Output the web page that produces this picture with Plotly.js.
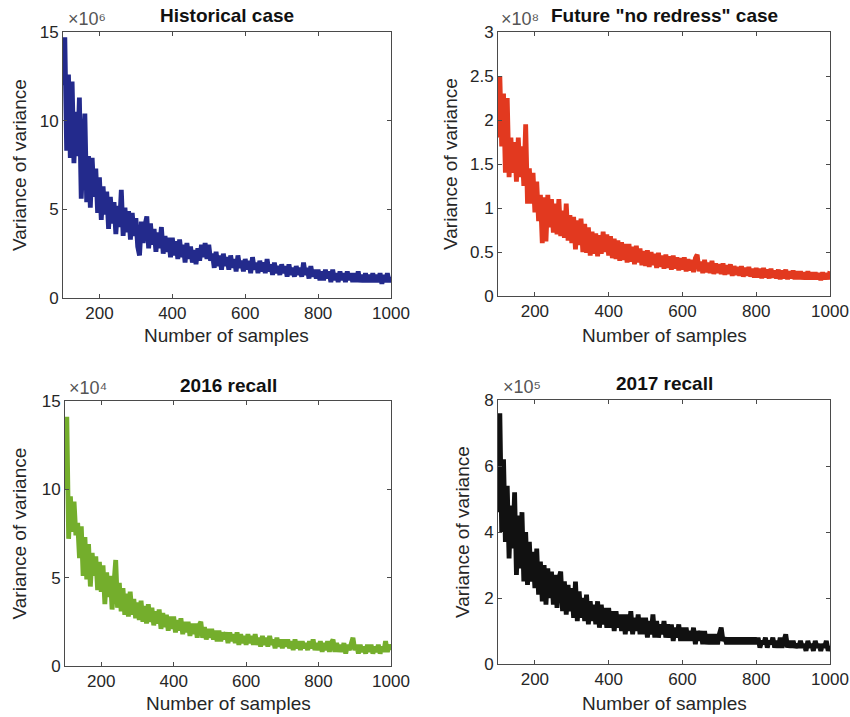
<!DOCTYPE html>
<html>
<head>
<meta charset="utf-8">
<script src="https://cdn.plot.ly/plotly-3.0.1.min.js"></script>
<style>html,body{margin:0;padding:0;background:#fff;}#chart{width:850px;height:717px;}</style>
</head>
<body>
<div id="chart"></div>
<script>
// Number of samples (x)
const samples = [
100,105,110,115,120,125,130,135,140,145,150,155,160,165,170,175,180,185,190,195,
200,205,210,215,220,225,230,235,240,245,250,255,260,265,270,275,280,285,290,295,
300,305,310,315,320,325,330,335,340,345,350,355,360,365,370,375,380,385,390,395,
400,405,410,415,420,425,430,435,440,445,450,455,460,465,470,475,480,485,490,495,
500,505,510,515,520,525,530,535,540,545,550,555,560,565,570,575,580,585,590,595,
600,605,610,615,620,625,630,635,640,645,650,655,660,665,670,675,680,685,690,695,
700,705,710,715,720,725,730,735,740,745,750,755,760,765,770,775,780,785,790,795,
800,805,810,815,820,825,830,835,840,845,850,855,860,865,870,875,880,885,890,895,
900,905,910,915,920,925,930,935,940,945,950,955,960,965,970,975,980,985,990,995,
1000];

// Historical case, variance of variance (x 10^6)
const historical = [
12.0,14.7,8.3,12.6,7.9,12.2,7.6,10.5,8.0,11.3, 5.6,9.0,10.4,5.4,8.0,5.1,7.9,5.7,7.3,4.8,
6.8,4.4,6.3,4.7,6.0,3.9,5.7,4.2,5.4,3.6, 5.2,4.0,6.1,3.5,5.1,3.7,4.9,3.3,4.8,3.5,
4.5,2.9,2.4,4.3,3.1,4.1,4.6,2.8,4.2,3.0, 3.9,2.6,3.7,2.8,4.0,2.5,3.5,2.6,3.4,2.3,
3.4,2.4,3.2,2.2,3.3,2.3,3.0,2.0,3.1,2.2, 2.9,2.0,2.7,1.9,2.8,2.1,3.0,2.3,3.1,2.2,
3.0,2.1,2.5,1.7,2.6,1.8,2.4,1.6,2.5,1.8, 2.3,1.6,2.4,1.7,2.2,1.5,2.4,1.7,2.1,1.5,
2.2,1.6,2.1,1.4,2.3,1.6,2.0,1.4,2.1,1.5, 2.0,1.4,2.2,1.5,1.9,1.3,2.0,1.4,1.8,1.3,
1.9,1.4,1.8,1.2,1.9,1.3,1.7,1.2,1.8,1.3, 1.7,1.2,2.0,1.3,1.7,1.1,1.8,1.2,1.6,1.1,
1.6,1.0,1.5,1.0,1.6,1.1,1.5,0.9,1.6,1.0, 1.4,0.9,1.5,1.0,1.4,0.9,1.5,1.0,1.4,0.9,
1.4,0.9,1.5,0.9,1.3,0.9,1.4,0.9,1.3,0.9, 1.4,0.9,1.3,0.9,1.4,0.8,1.3,0.9,1.4,0.9,
1.2];

// Future "no redress" case (x 10^8)
const noRedress = [
1.8,2.5,1.7,2.3,1.4,2.25,1.35,1.8,1.4,1.75, 1.3,1.8,1.35,1.7,1.25,1.95,1.05,1.45,1.05,1.4,
0.95,1.3,0.85,1.15,0.6,1.12,0.62,1.15,0.78,1.1, 0.72,1.05,0.7,1.1,0.68,0.97,0.66,1.05,0.63,0.92,
0.6,0.9,0.53,0.86,0.58,0.88,0.5,0.82,0.49,0.78, 0.46,0.73,0.48,0.71,0.45,0.69,0.48,0.73,0.5,0.7,
0.46,0.68,0.43,0.65,0.42,0.63,0.4,0.61,0.41,0.59, 0.38,0.59,0.39,0.56,0.36,0.57,0.38,0.54,0.35,0.51,
0.34,0.52,0.33,0.5,0.35,0.48,0.32,0.49,0.33,0.46, 0.31,0.47,0.32,0.45,0.3,0.46,0.31,0.44,0.29,0.43,
0.3,0.44,0.28,0.42,0.29,0.41,0.27,0.43,0.47,0.28, 0.39,0.26,0.41,0.27,0.38,0.26,0.4,0.25,0.37,0.26,
0.36,0.25,0.37,0.24,0.35,0.25,0.36,0.23,0.34,0.24, 0.33,0.23,0.34,0.22,0.32,0.23,0.33,0.22,0.31,0.21,
0.32,0.21,0.31,0.2,0.32,0.21,0.3,0.2,0.31,0.21, 0.29,0.2,0.3,0.19,0.29,0.2,0.3,0.19,0.28,0.2,
0.29,0.19,0.28,0.19,0.28,0.19,0.27,0.19,0.28,0.19, 0.27,0.19,0.27,0.19,0.26,0.18,0.27,0.19,0.26,0.19,
0.28];

// 2016 recall (x 10^4)
const recall2016 = [
10.0,14.1,7.2,9.6,7.6,9.3,7.4,8.1,6.1,7.9, 5.1,7.3,4.9,6.9,4.5,6.4,5.1,6.2,4.3,5.9,
4.2,5.7,3.5,5.3,3.9,5.1,3.2,4.9,6.0,3.3, 4.7,3.1,4.4,2.9,4.1,2.8,4.2,2.9,3.8,2.7,
3.6,2.6,3.7,2.5,3.4,2.4,3.5,2.5,3.3,2.3, 3.1,2.4,3.2,2.1,3.0,2.2,2.9,2.0,2.8,2.1,
2.8,1.9,2.6,2.0,2.7,1.8,2.5,1.9,2.5,1.7, 2.4,1.8,2.4,1.6,2.3,2.5,1.6,2.2,1.5,2.1,
1.6,2.1,1.5,2.0,1.4,2.0,1.4,1.9,1.5,1.9, 1.3,1.9,1.4,1.8,1.3,1.9,1.2,1.8,1.3,1.7,
1.2,1.8,1.3,1.7,1.2,1.8,1.2,1.6,1.1,1.7, 1.2,1.6,1.1,1.7,1.2,1.5,1.0,1.6,1.1,1.5,
1.0,1.5,1.1,1.5,1.0,1.4,0.9,1.5,1.0,1.4, 0.9,1.4,1.0,1.3,0.9,1.4,1.0,1.5,0.9,1.3,
0.9,1.4,0.8,1.3,0.9,1.4,0.8,1.3,1.5,0.8, 1.3,0.8,1.2,0.8,1.3,0.7,1.2,0.9,1.3,1.6,
0.9,1.2,0.7,1.2,0.8,1.1,0.7,1.2,0.8,1.2, 0.7,1.1,0.8,1.2,0.7,1.1,0.8,1.4,0.8,1.2,
0.9];

// 2017 recall (x 10^5)
const recall2017 = [
4.6,7.6,4.0,6.2,3.7,5.4,3.2,4.8,3.5,5.2, 2.7,4.5,2.9,4.6,2.5,4.0,2.4,3.7,2.5,3.4,
2.3,3.5,2.1,3.1,1.9,3.0,1.8,2.9,2.0,2.8, 1.8,2.7,1.7,2.6,2.8,1.6,2.5,1.5,2.4,1.6,
2.3,1.4,2.5,1.3,2.2,1.4,2.0,1.3,2.1,1.2, 1.9,1.3,1.8,1.2,1.9,1.1,1.8,1.2,1.7,1.1,
1.7,1.1,1.6,1.0,1.6,1.1,1.5,1.0,1.5,0.9, 1.5,1.0,1.6,0.9,1.4,1.0,1.5,0.9,1.4,0.9,
1.4,0.8,1.3,0.9,1.5,0.8,1.3,0.8,1.2,0.9, 1.3,0.8,1.2,0.8,1.2,0.7,1.1,0.8,1.2,0.7,
1.1,0.7,1.1,0.7,1.0,0.7,1.1,0.6,1.0,0.7, 1.0,0.6,1.0,0.6,0.9,0.6,0.9,0.6,0.9,0.6,
0.9,1.1,0.7,0.8,0.6,0.8,0.6,0.8,0.6,0.8, 0.6,0.8,0.6,0.8,0.6,0.8,0.6,0.8,0.6,0.8,
0.6,0.8,0.5,0.7,0.6,0.8,0.5,0.7,0.6,0.8, 0.5,0.7,0.5,0.8,0.5,0.7,0.9,0.5,0.7,0.5,
0.7,0.5,0.6,0.5,0.7,0.5,0.6,0.4,0.7,0.5, 0.6,0.4,0.7,0.5,0.6,0.4,0.6,0.5,0.7,0.4,
0.55];

const titles = ['Historical case', 'Future "no redress" case', '2016 recall', '2017 recall'];
const exponents = ['×10⁶', '×10⁸', '×10⁴', '×10⁵'];
const seriesList = [historical, noRedress, recall2016, recall2017];
const colors = ['#232a8c', '#e2391f', '#74ae2c', '#111111'];
const yRanges = [[0, 15], [0, 3], [0, 15], [0, 8]];
const yTicks = [[0, 5, 10, 15], [0, 0.5, 1, 1.5, 2, 2.5, 3], [0, 5, 10, 15], [0, 2, 4, 6, 8]];
const xTicks = [200, 400, 600, 800, 1000];

// layout geometry (pixels)
const W = 850, H = 717;
const boxes = [
  {l: 63, r: 391, t: 32, b: 298, ytx: 19, xty: 335, tty: 16, ex: 66, ey: 19},
  {l: 498, r: 830, t: 32, b: 296, ytx: 451, xty: 335, tty: 15, ex: 499, ey: 19},
  {l: 65, r: 391, t: 401, b: 666, ytx: 19, xty: 703, tty: 385, ex: 67, ey: 388},
  {l: 498, r: 830, t: 400, b: 664, ytx: 462, xty: 703, tty: 384, ex: 501, ey: 387}
];
const px = v => v / W;
const py = v => 1 - v / H;

const FONT = 'Liberation Sans, Arial, Helvetica, sans-serif';
const traces = [];
const layout = {
  width: W, height: H,
  margin: {l: 0, r: 0, t: 0, b: 0},
  paper_bgcolor: '#ffffff', plot_bgcolor: '#ffffff',
  showlegend: false,
  font: {family: FONT, color: '#262626'},
  annotations: []
};

boxes.forEach((b, i) => {
  const n = i === 0 ? '' : String(i + 1);
  traces.push({
    x: samples, y: seriesList[i], type: 'scatter', mode: 'lines',
    line: {color: colors[i], width: 4.8},
    xaxis: 'x' + n, yaxis: 'y' + n, hoverinfo: 'x+y'
  });
  const common = {
    showline: true, mirror: 'ticks', linecolor: '#4a4a4a', linewidth: 1,
    ticks: 'inside', ticklen: 4, tickcolor: '#4a4a4a', tickwidth: 1,
    showgrid: false, zeroline: false, fixedrange: true,
    tickfont: {family: FONT, size: 17, color: '#262626'}
  };
  layout['xaxis' + n] = Object.assign({}, common, {
    domain: [px(b.l), px(b.r)], range: [100, 1000],
    tickmode: 'array', tickvals: xTicks, ticktext: xTicks.map(String),
    anchor: 'y' + n
  });
  layout['yaxis' + n] = Object.assign({}, common, {
    domain: [py(b.b), py(b.t)], range: yRanges[i],
    tickmode: 'array', tickvals: yTicks[i], ticktext: yTicks[i].map(String),
    anchor: 'x' + n
  });
  const cx = (b.l + b.r) / 2;
  layout.annotations.push(
    {text: titles[i], x: px(cx), y: py(b.tty), xref: 'paper', yref: 'paper',
     xanchor: 'center', yanchor: 'middle', showarrow: false,
     font: {family: FONT, size: 19, color: '#111', weight: 'bold'}},
    {text: 'Number of samples', x: px(cx), y: py(b.xty), xref: 'paper', yref: 'paper',
     xanchor: 'center', yanchor: 'middle', showarrow: false, font: {family: FONT, size: 19, color: '#262626'}},
    {text: 'Variance of variance', x: px(b.ytx), y: py((b.t + b.b) / 2), xref: 'paper', yref: 'paper',
     xanchor: 'center', yanchor: 'middle', textangle: -90, showarrow: false, font: {family: FONT, size: 19, color: '#262626'}},
    {text: exponents[i], x: px(b.ex), y: py(b.ey), xref: 'paper', yref: 'paper',
     xanchor: 'left', yanchor: 'middle', showarrow: false, font: {family: FONT, size: 18, color: '#555'}}
  );
});

Plotly.newPlot('chart', traces, layout, {displayModeBar: false, staticPlot: true});
</script>
</body>
</html>
